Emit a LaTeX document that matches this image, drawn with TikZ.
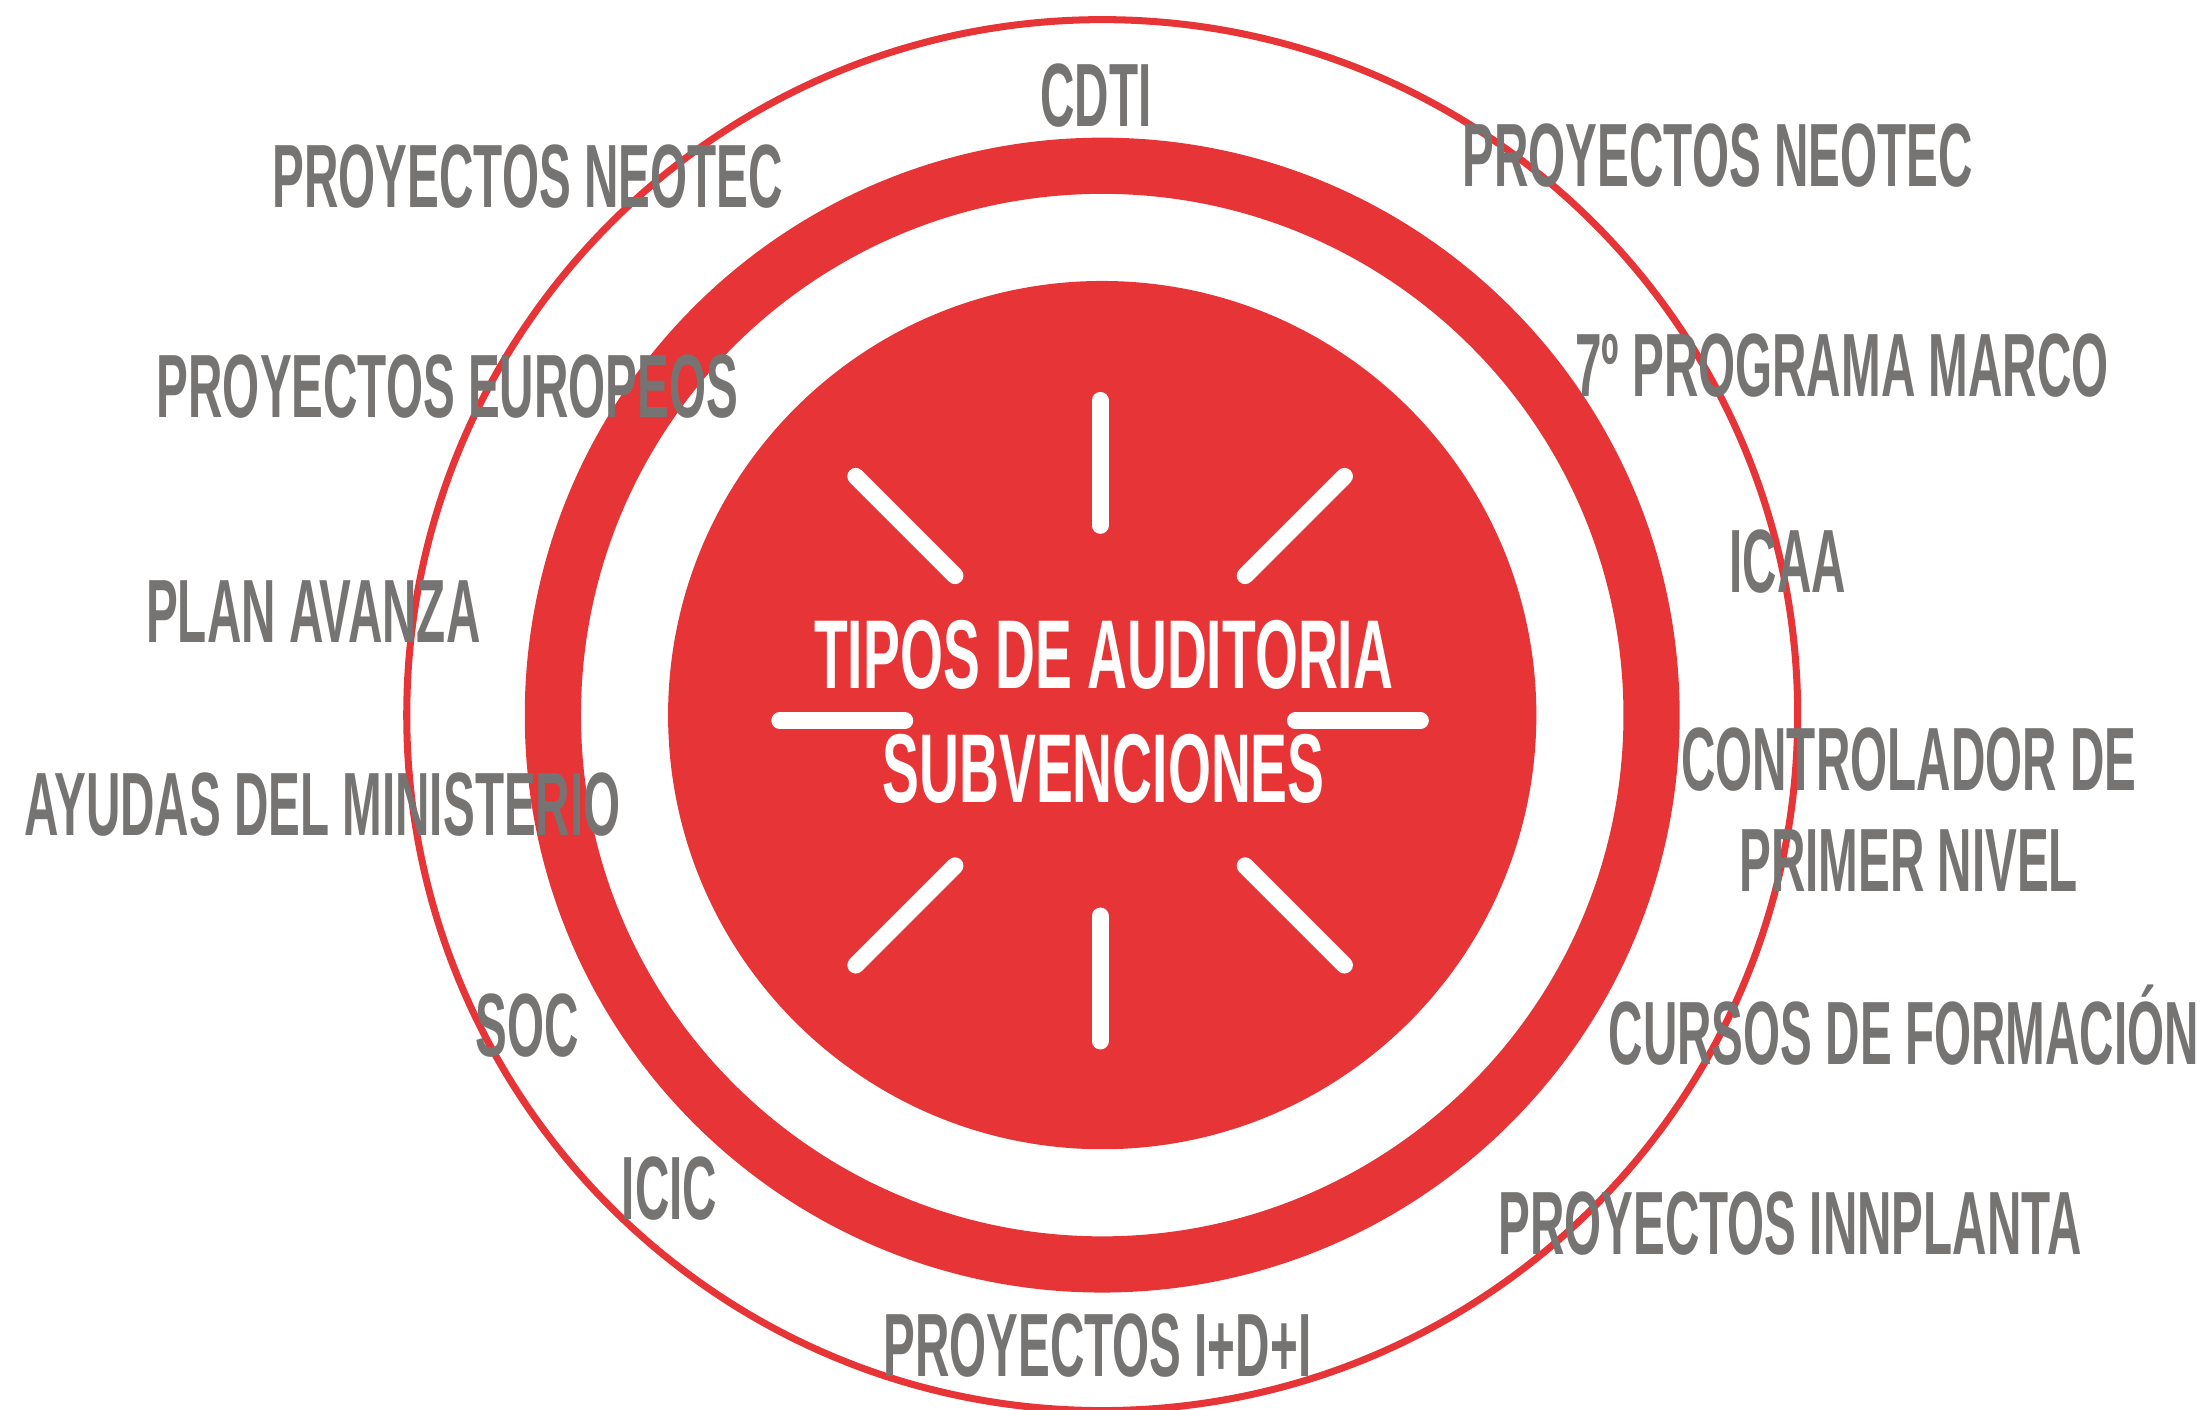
\documentclass[tikz,border=0pt]{standalone}
\usepackage{fontspec}
\newfontfamily\bebas[FakeStretch=0.53]{Liberation Sans}
\newfontfamily\bebasc[FakeStretch=0.565]{Liberation Sans}
\definecolor{rojo}{RGB}{231,52,54}
\definecolor{gris}{RGB}{118,116,115}
\tikzset{lbl/.style={text=gris,font=\bebas\bfseries\fontsize{18.2pt}{20.5pt}\selectfont,inner sep=0pt,anchor=base}}
\begin{document}
\begin{tikzpicture}[line cap=round]
\useasboundingbox (0,0) rectangle (15.68,10.03);
% circles
\coordinate (O) at (7.845,4.94);
\draw[rojo,line width=0.05cm] (O) circle (4.95);
\draw[rojo,line width=0.40cm] (O) circle (3.91);
\fill[rojo] (O) circle (3.09);
% rays
\coordinate (R) at (7.83,4.90);
\foreach \a in {0,90,180,270}
\draw[white,line width=0.12cm] ([shift={(\a:1.39)}]R)--([shift={(\a:2.28)}]R);
\foreach \a in {45,135,225,315}
\draw[white,line width=0.12cm] ([shift={(\a:1.46)}]R)--([shift={(\a:2.46)}]R);
\node[text=white,font=\bebasc\bfseries\fontsize{19.8pt}{23pt}\selectfont,align=center,inner sep=0pt] (tipos) at (7.855,4.965) {TIPOS DE AUDITORIA\\SUBVENCIONES};
% labels
\node[lbl] (cdti) at (7.80,9.13) {CDTI};
\node[lbl] (neotecL) at (3.755,8.55) {PROYECTOS NEOTEC};
\node[lbl] (neotecR) at (12.225,8.70) {PROYECTOS NEOTEC};
\node[lbl] (europeos) at (3.185,7.06) {PROYECTOS EUROPEOS};
\node[lbl] (marco) at (13.11,7.21) {7º PROGRAMA MARCO};
\node[lbl] (avanza) at (2.23,5.46) {PLAN AVANZA};
\node[lbl] (icaa) at (12.725,5.81) {ICAA};
\node[lbl] (ministerio) at (2.295,4.08) {AYUDAS DEL MINISTERIO};
\node[lbl,anchor=center,align=center] (ctrl) at (13.585,4.265) {CONTROLADOR DE\\PRIMER NIVEL};
\node[lbl] (soc) at (3.755,2.51) {SOC};
\node[lbl] (cursos) at (13.55,2.45) {CURSOS DE FORMACIÓN};
\node[lbl] (icic) at (4.765,1.35) {ICIC};
\node[lbl] (innplanta) at (12.74,1.10) {PROYECTOS INNPLANTA};
\node[lbl] (imasd) at (7.81,0.23) {PROYECTOS I+D+I};
\end{tikzpicture}
\end{document}
